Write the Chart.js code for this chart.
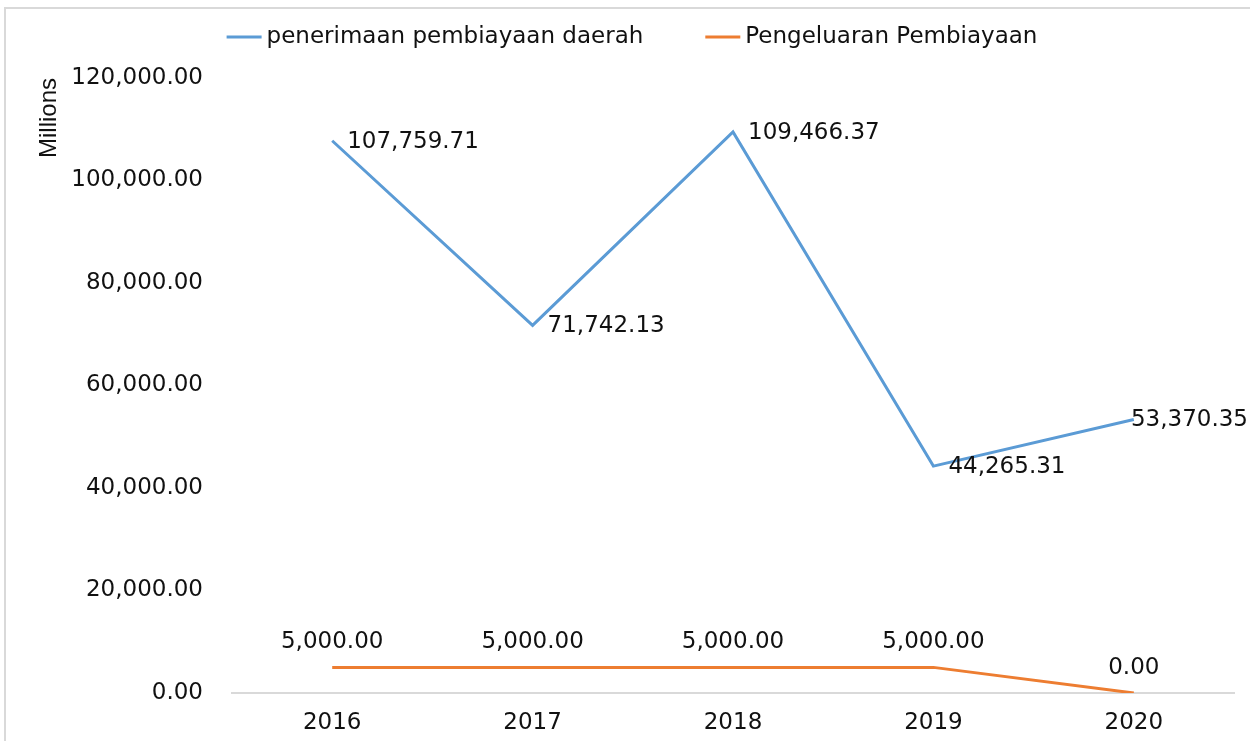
<!DOCTYPE html>
<html>
<head>
<meta charset="utf-8">
<script src="https://cdn.jsdelivr.net/npm/chart.js@4"></script>
<style>
  html, body { margin: 0; padding: 0; background: #fff; }
  #wrap { position: relative; width: 1250px; height: 741px; }
</style>
</head>
<body>
<div id="wrap"><canvas id="chart" width="1250" height="741"></canvas></div>
<script>
  const years = ["2016", "2017", "2018", "2019", "2020"];
  const penerimaan = [107759.71, 71742.13, 109466.37, 44265.31, 53370.35];
  const pengeluaran = [5000, 5000, 5000, 5000, 0];
  const seriesNames = ["penerimaan pembiayaan daerah", "Pengeluaran Pembiayaan"];
  const yTicks = [0, 20000, 40000, 60000, 80000, 100000, 120000];

  const FONT = "'DejaVu Sans', sans-serif";
  const fmt = (v) =>
    v.toLocaleString("en-US", { minimumFractionDigits: 2, maximumFractionDigits: 2 });

  // frame round the chart (top and left edges only show in the picture)
  const framePlugin = {
    id: "frame",
    beforeDraw(chart) {
      const ctx = chart.ctx;
      ctx.save();
      ctx.fillStyle = "#fff";
      ctx.fillRect(0, 0, chart.width, chart.height);
      ctx.strokeStyle = "#d9d9d9";
      ctx.lineWidth = 2;
      ctx.beginPath();
      ctx.moveTo(5, chart.height);
      ctx.lineTo(5, 8);
      ctx.lineTo(chart.width, 8);
      ctx.stroke();
      ctx.restore();
    },
  };

  // legend drawn by hand so the spacing matches
  const legendPlugin = {
    id: "handLegend",
    afterDraw(chart) {
      const ctx = chart.ctx;
      ctx.save();
      ctx.font = "23px " + FONT;
      ctx.textBaseline = "middle";
      const lineW = 35, gapText = 5, gapItem = 62, y = 37;
      const items = chart.data.datasets.map((ds) => ({
        text: ds.label,
        color: ds.borderColor,
        w: lineW + gapText + ctx.measureText(ds.label).width,
      }));
      const total = items.reduce((s, it) => s + it.w, 0) + gapItem * (items.length - 1);
      let x = 632 - total / 2;
      items.forEach((it) => {
        ctx.strokeStyle = it.color;
        ctx.lineWidth = 3;
        ctx.beginPath();
        ctx.moveTo(x, y);
        ctx.lineTo(x + lineW, y);
        ctx.stroke();
        ctx.fillStyle = "#111";
        ctx.textAlign = "left";
        ctx.fillText(it.text, x + lineW + gapText, y);
        x += it.w + gapItem;
      });
      ctx.restore();
    },
  };

  // value labels next to each point
  const valueLabels = {
    id: "valueLabels",
    afterDatasetsDraw(chart) {
      const ctx = chart.ctx;
      ctx.save();
      ctx.font = "23px " + FONT;
      ctx.fillStyle = "#111";
      ctx.textBaseline = "middle";
      chart.data.datasets.forEach((ds, i) => {
        const meta = chart.getDatasetMeta(i);
        meta.data.forEach((pt, j) => {
          const text = fmt(ds.data[j]);
          if (ds.labelPos === "right") {
            const w = ctx.measureText(text).width;
            const x = Math.min(pt.x + 15, chart.width - w - 2);
            ctx.textAlign = "left";
            ctx.fillText(text, x, pt.y + 1);
          } else {
            ctx.textAlign = "center";
            ctx.fillText(text, pt.x, pt.y - 25);
          }
        });
      });
      ctx.restore();
    },
  };

  new Chart(document.getElementById("chart"), {
    type: "line",
    data: {
      labels: years,
      datasets: [
        {
          label: seriesNames[0],
          data: penerimaan,
          borderColor: "#5B9BD5",
          backgroundColor: "#5B9BD5",
          borderWidth: 3,
          pointRadius: 0,
          tension: 0,
          labelPos: "right",
        },
        {
          label: seriesNames[1],
          data: pengeluaran,
          borderColor: "#ED7D31",
          backgroundColor: "#ED7D31",
          borderWidth: 3,
          pointRadius: 0,
          tension: 0,
          labelPos: "above",
        },
      ],
    },
    options: {
      responsive: false,
      animation: false,
      layout: { padding: { top: 78, right: 16, bottom: 0, left: 0 } },
      plugins: {
        legend: { display: false },
        tooltip: { enabled: false },
      },
      scales: {
        x: {
          offset: true,
          grid: { display: false, drawTicks: false },
          border: { display: true, color: "#d9d9d9", width: 2 },
          ticks: { color: "#111", font: { family: FONT, size: 23 }, padding: 16 },
          afterFit: (scale) => { scale.height = 48; },
        },
        y: {
          min: 0,
          max: 120000,
          afterBuildTicks: (scale) => { scale.ticks = yTicks.map((v) => ({ value: v })); },
          grid: { display: false, drawTicks: false },
          border: { display: false },
          ticks: {
            color: "#111",
            font: { family: FONT, size: 23 },
            padding: 29,
            callback: (v) => fmt(v),
          },
          title: {
            display: true,
            text: "Millions",
            align: "end",
            color: "#111",
            font: { family: "'Liberation Sans Narrow', 'Liberation Sans', sans-serif", size: 24 },
            padding: { top: 35, bottom: 0 },
          },
          afterFit: (scale) => { scale.width = 232; },
        },
      },
    },
    plugins: [framePlugin, legendPlugin, valueLabels],
  });
</script>
</body>
</html>
